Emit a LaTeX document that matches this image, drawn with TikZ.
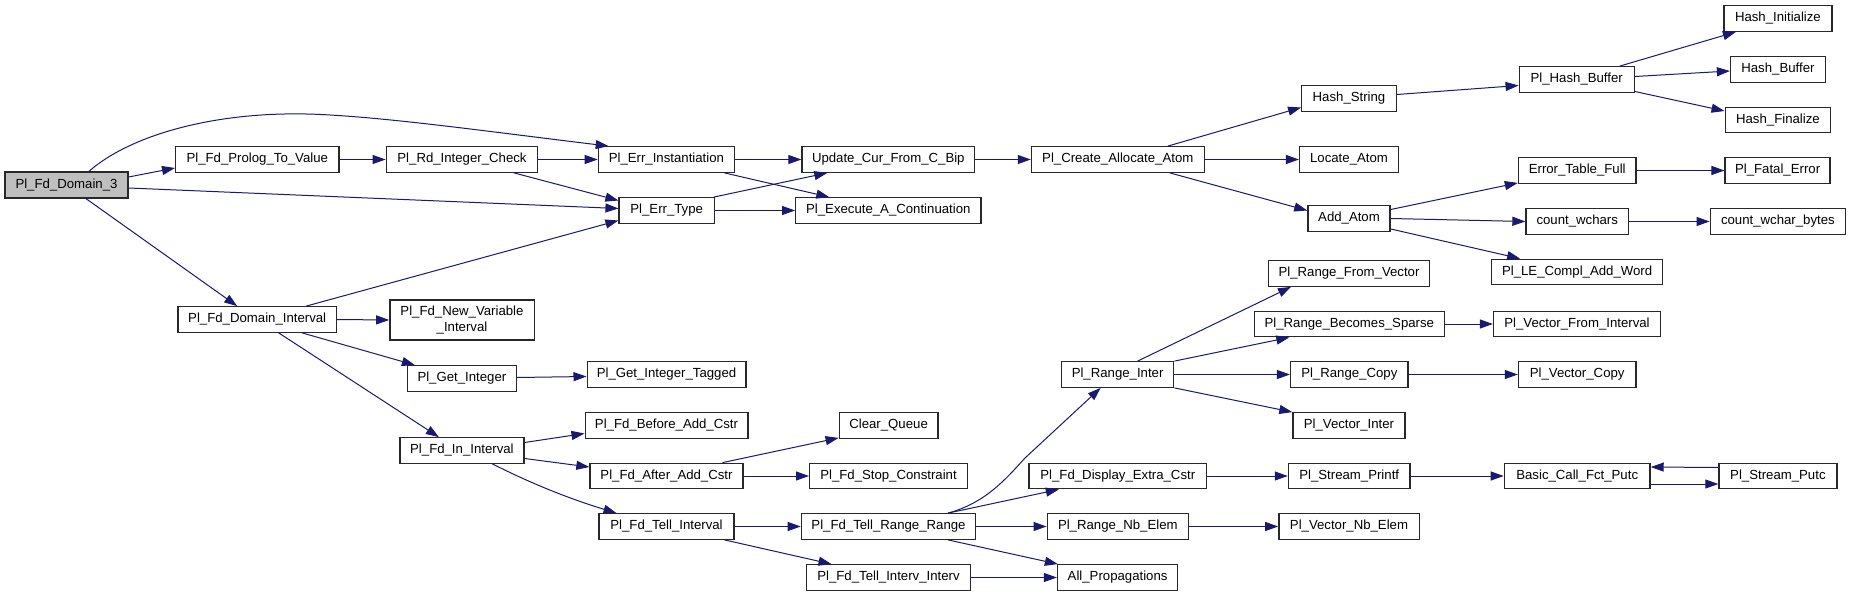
\documentclass[tikz,border=0pt]{standalone}
\usepackage{fontspec}
\setmainfont{Liberation Sans}
\usetikzlibrary{arrows.meta,calc}
\definecolor{edgeblue}{RGB}{25,25,112}
\definecolor{rootgray}{RGB}{191,191,191}
\definecolor{boxline}{RGB}{40,40,40}
\tikzset{
  box/.style={draw=boxline, line width=1.3pt, fill=white, inner sep=0pt, minimum height=25.5pt, align=center,
    font=\fontsize{13.2}{15.5}\selectfont},
  edge/.style={draw=edgeblue, line width=1pt, -{Triangle[length=13pt,width=9pt]}, fill=none}
}
\newcommand{\mkbox}[5][]{\node[box,#1,minimum width=#4pt] (#2) at (#3) {#5};}
\begin{document}
\begin{tikzpicture}[x=1pt,y=-1pt]
\useasboundingbox[fill=white] (0,0) rectangle (1851,596);
% column 1
\mkbox[fill=rootgray,minimum height=26pt]{d3}{66.5,185}{123}{Pl\_Fd\_Domain\_3}
% column 2
\mkbox{prolog}{257.3,159.5}{163.3}{Pl\_Fd\_Prolog\_To\_Value}
\mkbox{dint}{257.2,319.5}{158.6}{Pl\_Fd\_Domain\_Interval}
% column 3
\mkbox{rdint}{462,159.5}{151.5}{Pl\_Rd\_Integer\_Check}
\mkbox[minimum height=40pt]{newvar}{462,320}{144.3}{Pl\_Fd\_New\_Variable\\\_Interval}
\mkbox{getint}{461.9,378.5}{109.1}{Pl\_Get\_Integer}
\mkbox{inint}{461.9,450.5}{124.1}{Pl\_Fd\_In\_Interval}
% column 4
\mkbox{errinst}{666.4,159.5}{136.1}{Pl\_Err\_Instantiation}
\mkbox{errtype}{666.7,210.5}{95.3}{Pl\_Err\_Type}
\mkbox{getinttag}{666.5,374.5}{158.7}{Pl\_Get\_Integer\_Tagged}
\mkbox{before}{666.5,425.5}{162.7}{Pl\_Fd\_Before\_Add\_Cstr}
\mkbox{after}{666.5,476}{153.1}{Pl\_Fd\_After\_Add\_Cstr}
\mkbox{tellint}{666.5,526.5}{135}{Pl\_Fd\_Tell\_Interval}
% column 5
\mkbox{update}{888.3,159.5}{172.5}{Update\_Cur\_From\_C\_Bip}
\mkbox{exec}{888.3,210.5}{185.1}{Pl\_Execute\_A\_Continuation}
\mkbox{clearq}{888.6,425.5}{98.8}{Clear\_Queue}
\mkbox{stopc}{888.5,476}{157.7}{Pl\_Fd\_Stop\_Constraint}
\mkbox{trr}{888.5,526.5}{174.3}{Pl\_Fd\_Tell\_Range\_Range}
\mkbox{tii}{888.5,577.5}{164.1}{Pl\_Fd\_Tell\_Interv\_Interv}
% column 6
\mkbox{create}{1117.8,159.5}{172.8}{Pl\_Create\_Allocate\_Atom}
\mkbox{rinter}{1117.6,374.5}{112.3}{Pl\_Range\_Inter}
\mkbox{dec}{1117.8,476}{177.6}{Pl\_Fd\_Display\_Extra\_Cstr}
\mkbox{rnb}{1117.8,526.5}{141.2}{Pl\_Range\_Nb\_Elem}
\mkbox{allprop}{1117.6,577.5}{120.2}{All\_Propagations}
% column 7
\mkbox{hashstr}{1349,98.5}{94.6}{Hash\_String}
\mkbox{locate}{1349,159.5}{98.8}{Locate\_Atom}
\mkbox{addatom}{1349,218.5}{82.2}{Add\_Atom}
\mkbox{rfv}{1349,273.5}{161.1}{Pl\_Range\_From\_Vector}
\mkbox{rbs}{1349.3,324}{189.7}{Pl\_Range\_Becomes\_Sparse}
\mkbox{rcopy}{1349.3,374.5}{117.5}{Pl\_Range\_Copy}
\mkbox{vinter}{1349,425.5}{112.1}{Pl\_Vector\_Inter}
\mkbox{sprintf}{1349.2,476}{121.6}{Pl\_Stream\_Printf}
\mkbox{vnb}{1349,526.5}{140.3}{Pl\_Vector\_Nb\_Elem}
% column 8
\mkbox{plhash}{1576.7,79.5}{115}{Pl\_Hash\_Buffer}
\mkbox{etf}{1577.2,170.5}{117.5}{Error\_Table\_Full}
\mkbox{cw}{1577.2,221.5}{102.5}{count\_wchars}
\mkbox{lecompl}{1577.1,272}{170.6}{Pl\_LE\_Compl\_Add\_Word}
\mkbox{vfi}{1577,324}{166.9}{Pl\_Vector\_From\_Interval}
\mkbox{vcopy}{1577.2,374.5}{117.5}{Pl\_Vector\_Copy}
\mkbox{basic}{1577.2,476}{145.7}{Basic\_Call\_Fct\_Putc}
% column 9
\mkbox{hashinit}{1777.9,18.5}{107.9}{Hash\_Initialize}
\mkbox{hashbuf}{1777.9,69.5}{94.7}{Hash\_Buffer}
\mkbox{hashfin}{1777.9,120}{105.5}{Hash\_Finalize}
\mkbox{fatal}{1777.6,170.5}{105}{Pl\_Fatal\_Error}
\mkbox{cwb}{1777.9,221.5}{135.3}{count\_wchar\_bytes}
\mkbox{sputc}{1777.9,476}{117.9}{Pl\_Stream\_Putc}

% edges
\draw[edge] ($(d3.north)+(22.5,0)$) .. controls (130,135) and (220,108) .. (330,115)
  .. controls (400,119) and (500,133) .. ($(errinst.north west)+(11,0)$);
\draw[edge] ($(d3.east)+(0,-8)$) -- ($(prolog.west)+(0,8.5)$);
\draw[edge] ($(d3.east)+(0,3)$) -- ($(errtype.west)+(0,-2)$);
\draw[edge] ($(d3.south)+(19.5,0)$) -- ($(dint.north)+(-20,0)$);
\draw[edge] (prolog.east) -- (rdint.west);
\draw[edge] (rdint.east) -- (errinst.west);
\draw[edge] ($(rdint.south)+(52,0)$) -- ($(errtype.west)+(0,-10)$);
\draw[edge] ($(dint.north)+(49,0)$) -- ($(errtype.west)+(0,10)$);
\draw[edge] (errinst.east) -- (update.west);
\draw[edge] ($(errinst.south)+(58,0)$) -- ($(exec.north)+(-59,0)$);
\draw[edge] ($(errtype.north)+(47,0)$) -- ($(update.south)+(-61,0)$);
\draw[edge] (errtype.east) -- (exec.west);
\draw[edge] (update.east) -- (create.west);
\draw[edge] ($(create.north)+(50,0)$) -- ($(hashstr.west)+(0,9)$);
\draw[edge] (create.east) -- (locate.west);
\draw[edge] ($(create.south)+(52,0)$) -- ($(addatom.west)+(0,-8)$);
\draw[edge] ($(hashstr.east)+(0,-4)$) -- ($(plhash.west)+(0,6)$);
\draw[edge] ($(plhash.north)+(43,0)$) -- ($(hashinit.south)+(-42,0)$);
\draw[edge] ($(plhash.east)+(0,-3)$) -- ($(hashbuf.west)+(0,1.5)$);
\draw[edge] ($(plhash.east)+(0,12)$) -- ($(hashfin.west)+(0,-9)$);
\draw[edge] ($(addatom.east)+(0,-9)$) -- ($(etf.south west)+(0,-1)$);
\draw[edge] (addatom.east) -- (cw.west);
\draw[edge] ($(addatom.east)+(0,10.5)$) -- ($(lecompl.north)+(-57,0)$);
\draw[edge] (etf.east) -- (fatal.west);
\draw[edge] (cw.east) -- (cwb.west);
\draw[edge] (dint.east) -- (newvar.west);
\draw[edge] ($(dint.south)+(45,0)$) -- ($(getint.north)+(-47,0)$);
\draw[edge] ($(dint.south)+(21.5,0)$) -- ($(inint.north)+(-23,0)$);
\draw[edge] ($(getint.east)+(0,-1)$) -- ($(getinttag.west)+(0,2)$);
\draw[edge] ($(inint.east)+(0,-8)$) -- ($(before.west)+(0,8)$);
\draw[edge] ($(inint.east)+(0,8)$) -- ($(after.west)+(0,-9)$);
\draw[edge] ($(inint.south)+(30.5,0)$) .. controls (540,488) and (580,502) .. ($(tellint.north)+(-50,0)$);
\draw[edge] ($(after.north)+(56,0)$) -- ($(clearq.south west)+(0,-1)$);
\draw[edge] (after.east) -- (stopc.west);
\draw[edge] (tellint.east) -- (trr.west);
\draw[edge] ($(tellint.south)+(58,0)$) -- ($(tii.north)+(-57,0)$);
\draw[edge] ($(trr.north)+(59.5,0)$) .. controls (985,503) and (1005,480) .. (1025,458) -- ($(rinter.south)+(-17,0)$);
\draw[edge] ($(trr.north)+(59.5,0)$) -- ($(dec.south)+(-59,0)$);
\draw[edge] (trr.east) -- (rnb.west);
\draw[edge] ($(trr.south)+(59.5,0)$) -- ($(allprop.north west)+(1,0)$);
\draw[edge] (tii.east) -- (allprop.west);
\draw[edge] ($(rinter.north)+(20,0)$) -- ($(rfv.south)+(-58,0)$);
\draw[edge] (rinter.north east) -- ($(rbs.south)+(-60,0)$);
\draw[edge] (rinter.east) -- (rcopy.west);
\draw[edge] (rinter.south east) -- (vinter.north west);
\draw[edge] (rbs.east) -- (vfi.west);
\draw[edge] (rcopy.east) -- (vcopy.west);
\draw[edge] (dec.east) -- (sprintf.west);
\draw[edge] (sprintf.east) -- (basic.west);
\draw[edge] ($(basic.east)+(0,8)$) -- ($(sputc.west)+(0,8)$);
\draw[edge] ($(sputc.west)+(0,-8.5)$) -- ($(basic.east)+(0,-9)$);
\draw[edge] (rnb.east) -- (vnb.west);
\end{tikzpicture}
\end{document}
